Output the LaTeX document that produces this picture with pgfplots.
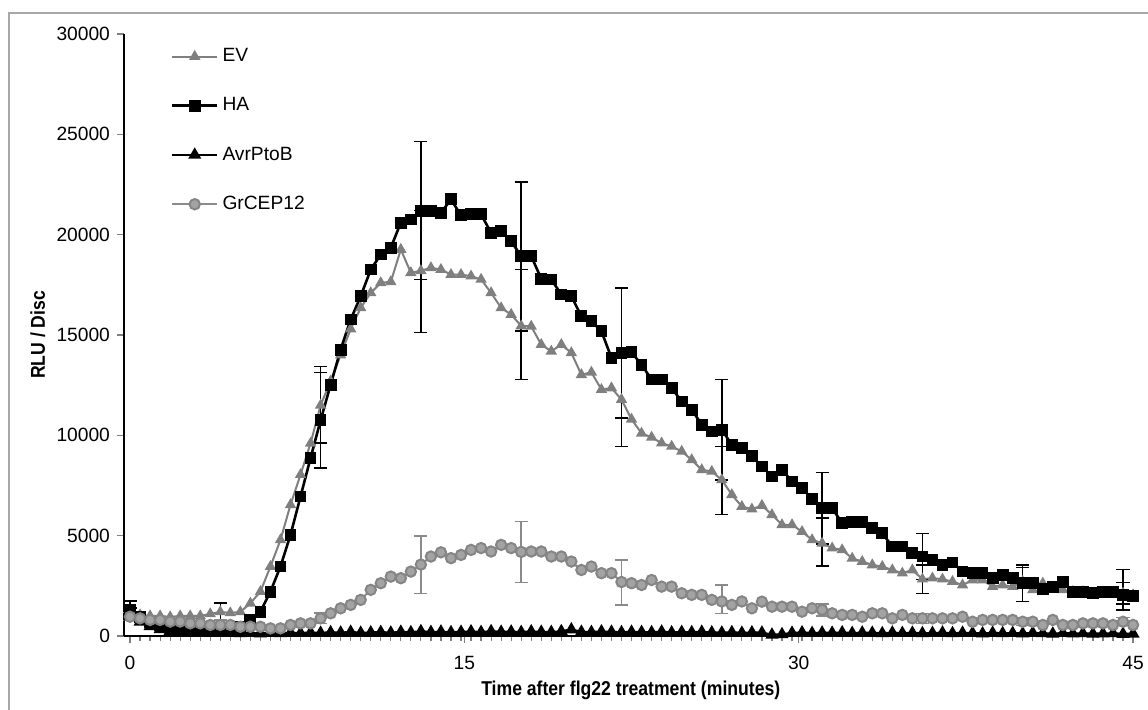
\documentclass[border=0pt]{standalone}
\usepackage{fontspec}
\setmainfont{Liberation Sans}
\usepackage{pgfplots}
\usepackage{pgfplotstable}
\pgfplotsset{compat=1.18}
\definecolor{evgray}{HTML}{7F7F7F}
\definecolor{cepline}{HTML}{8A8A8A}
\definecolor{cepfill}{HTML}{A3A3A3}
\definecolor{cepdraw}{HTML}{858585}
\definecolor{framegray}{HTML}{A8A8A8}

% time (min), HA, EV, AvrPtoB, GrCEP12
\pgfplotstableread{
t HA EV Avr CEP
0 1300 1100 950 960
0.45 950 1050 700 880
0.9 700 1000 480 800
1.35 520 1000 330 800
1.8 430 950 250 720
2.25 400 1000 200 720
2.7 390 1000 170 630
3.15 380 1000 150 630
3.6 380 1100 160 550
4.05 390 1200 140 550
4.5 400 1150 150 550
4.95 450 1200 130 460
5.4 800 1630 140 460
5.85 1210 2210 120 460
6.3 2210 3460 150 380
6.75 3460 4790 130 380
7.2 5040 6540 160 550
7.65 6950 8040 140 630
8.1 8870 9600 170 630
8.55 10750 11500 150 880
9 12520 12700 180 1130
9.45 14270 14000 160 1380
9.9 15770 15300 200 1550
10.35 16930 16350 150 1800
10.8 18260 17100 170 2300
11.25 19010 17600 190 2630
11.7 19350 17650 160 2960
12.15 20600 19260 200 2880
12.6 20760 18100 180 3210
13.05 21170 18200 230 3560
13.5 21170 18350 190 3960
13.95 21090 18260 210 4170
14.4 21760 18010 180 3880
14.85 20960 18010 200 4040
15.3 21010 17930 220 4290
15.75 21010 17770 190 4380
16.2 20090 17100 230 4210
16.65 20170 16350 200 4540
17.1 19670 16020 210 4380
17.55 18930 15450 190 4190
18 18930 15430 220 4210
18.45 17800 14520 200 4210
18.9 17770 14190 190 3960
19.35 17020 14520 230 3960
19.8 16930 14110 320 3710
20.25 15930 13020 200 3290
20.7 15680 13140 190 3460
21.15 15190 12280 220 3130
21.6 13860 12360 200 3130
22.05 14110 11780 180 2690
22.5 14140 10800 200 2630
22.95 13520 10100 190 2540
23.4 12780 9900 180 2790
23.85 12780 9610 210 2460
24.3 12360 9450 170 2460
24.75 11690 9200 190 2130
25.2 11280 8780 180 2050
25.65 10530 8280 200 2050
26.1 10190 8200 170 1800
26.55 10280 7780 160 1720
27 9530 7040 180 1550
27.45 9360 6450 150 1720
27.9 8950 6320 170 1380
28.35 8450 6500 160 1710
28.8 7950 6040 60 1460
29.25 8280 5540 80 1460
29.7 7700 5540 150 1460
30.15 7370 5200 170 1210
30.6 6820 4790 140 1380
31.05 6370 4620 160 1300
31.5 6370 4380 150 1130
31.95 5620 4290 170 1050
32.4 5700 3870 140 1050
32.85 5700 3710 160 960
33.3 5370 3540 150 1130
33.75 5120 3460 130 1130
34.2 4460 3290 160 880
34.65 4460 3130 140 1050
35.1 4130 3290 150 880
35.55 3960 2830 130 880
36 3790 2880 140 880
36.45 3540 2830 160 880
36.9 3660 2710 130 880
37.35 3210 2540 150 960
37.8 3130 2790 140 710
38.25 3130 2790 120 800
38.7 2880 2460 150 800
39.15 3040 2540 130 800
39.6 2880 2460 140 800
40.05 2630 2710 120 710
40.5 2630 2300 150 710
40.95 2330 2630 130 550
41.4 2460 2380 110 800
41.85 2710 2300 140 550
42.3 2210 2210 120 550
42.75 2210 2210 130 630
43.2 2130 2130 110 630
43.65 2210 2130 120 630
44.1 2210 2130 130 550
44.55 2050 2130 100 710
45 2000 2050 110 550
}\datatable

% error bars: time, value, plus, minus for HA, EV, GrCEP12
\pgfplotstableread{
t HA hap ham EV evp evm CEP cp cm
0 1300 450 450 1100 300 300 960 200 200
4.05 390 250 250 1200 450 400 550 250 250
8.55 10750 2370 2370 11500 1940 1880 880 270 270
13.05 21170 3480 3400 18200 3000 3070 3560 1430 1430
17.55 18930 3690 3740 15450 2810 2670 4190 1510 1510
22.05 14110 3240 3240 11780 2330 2330 2690 1100 1140
26.55 10280 2500 2500 7780 1670 1740 1720 820 590
31.05 6370 1780 1780 4620 1250 1130 1300 300 300
35.55 3960 1160 1160 2830 700 700 880 250 250
40.05 2630 910 910 2710 700 1000 710 200 200
44.55 2050 1270 750 2130 530 530 710 200 200
}\errtable

\begin{document}
\begin{tikzpicture}
\useasboundingbox (0,0) rectangle (574pt,355pt);
\draw[framegray, line width=0.7pt] (4.5pt,0pt) -- (4.5pt,348.5pt) -- (574pt,348.5pt);
\begin{axis}[
  at={(62pt,37pt)}, anchor=south west,
  scale only axis, width=506.75pt, height=301pt,
  xmin=-0.27, xmax=45.2, ymin=0, ymax=30000,
  clip=false,
  axis x line*=bottom, axis y line*=left,
  axis line style={-, line width=0.8pt},
  xtick={0,15,30,45},
  minor xtick={0,0.45,...,45.1},
  ytick={0,5000,...,30000},
  scaled ticks=false,
  tick align=outside,
  major tick length=3.5pt, minor tick length=2.5pt,
  x tick style={line width=0.6pt},
  y tick style={line width=0.7pt},
  /pgf/number format/assume math mode=true,
  /pgf/number format/1000 sep={},
  tick label style={font=\fontsize{9.6}{11}\selectfont},
  xticklabel style={yshift=-3pt},
  xlabel={\scalebox{0.88}[1]{\bfseries Time after flg22 treatment (minutes)}},
  ylabel={\scalebox{0.88}[1]{\bfseries RLU / Disc}},
  label style={font=\fontsize{9.6}{11}\selectfont},
  every axis x label/.style={at={(axis description cs:0.5,-0.09)}, anchor=center},
  every axis y label/.style={at={(axis description cs:-0.085,0.5)}, rotate=90, anchor=center},
  legend style={draw=none, fill=none, at={(rel axis cs:0.04,0.99)}, anchor=north west,
    font=\fontsize{9.6}{11}\selectfont, row sep=12.5pt, cells={anchor=west}},
  legend image code/.code={\draw[mark repeat=2,mark phase=2,#1] plot coordinates {(0pt,0pt) (11.25pt,0pt) (22.5pt,0pt)};},
]
\addplot[evgray, line width=1pt, mark=triangle*, mark size=2.3pt, mark options={fill=evgray, draw=evgray}]
  table[x=t, y=EV] {\datatable};
\addlegendentry{EV}
\addplot[black, line width=1.3pt, mark=square*, mark size=2.3pt]
  table[x=t, y=HA] {\datatable};
\addlegendentry{HA}
\addplot[black, line width=1.2pt, mark=triangle*, mark size=2.6pt]
  table[x=t, y=Avr] {\datatable};
\addlegendentry{AvrPtoB}
\addplot[cepline, line width=1pt, mark=*, mark size=2.6pt, mark options={fill=cepfill, draw=cepdraw}]
  table[x=t, y=CEP] {\datatable};
\addlegendentry{GrCEP12}
% error bars
\addplot[forget plot, draw=none, mark=none,
  error bars/.cd, y dir=both, y explicit,
  error bar style={black, line width=0.7pt},
  error mark options={rotate=90, mark size=3.3pt, line width=0.7pt, black}]
  table[x=t, y=HA, y error plus=hap, y error minus=ham] {\errtable};
\addplot[forget plot, draw=none, mark=none,
  error bars/.cd, y dir=both, y explicit,
  error bar style={black, line width=0.7pt},
  error mark options={rotate=90, mark size=3.3pt, line width=0.7pt, black}]
  table[x=t, y=EV, y error plus=evp, y error minus=evm] {\errtable};
\addplot[forget plot, draw=none, mark=none,
  error bars/.cd, y dir=both, y explicit,
  error bar style={cepline, line width=0.7pt},
  error mark options={rotate=90, mark size=3.3pt, line width=0.7pt, cepline}]
  table[x=t, y=CEP, y error plus=cp, y error minus=cm] {\errtable};
\end{axis}
\end{tikzpicture}
\end{document}
